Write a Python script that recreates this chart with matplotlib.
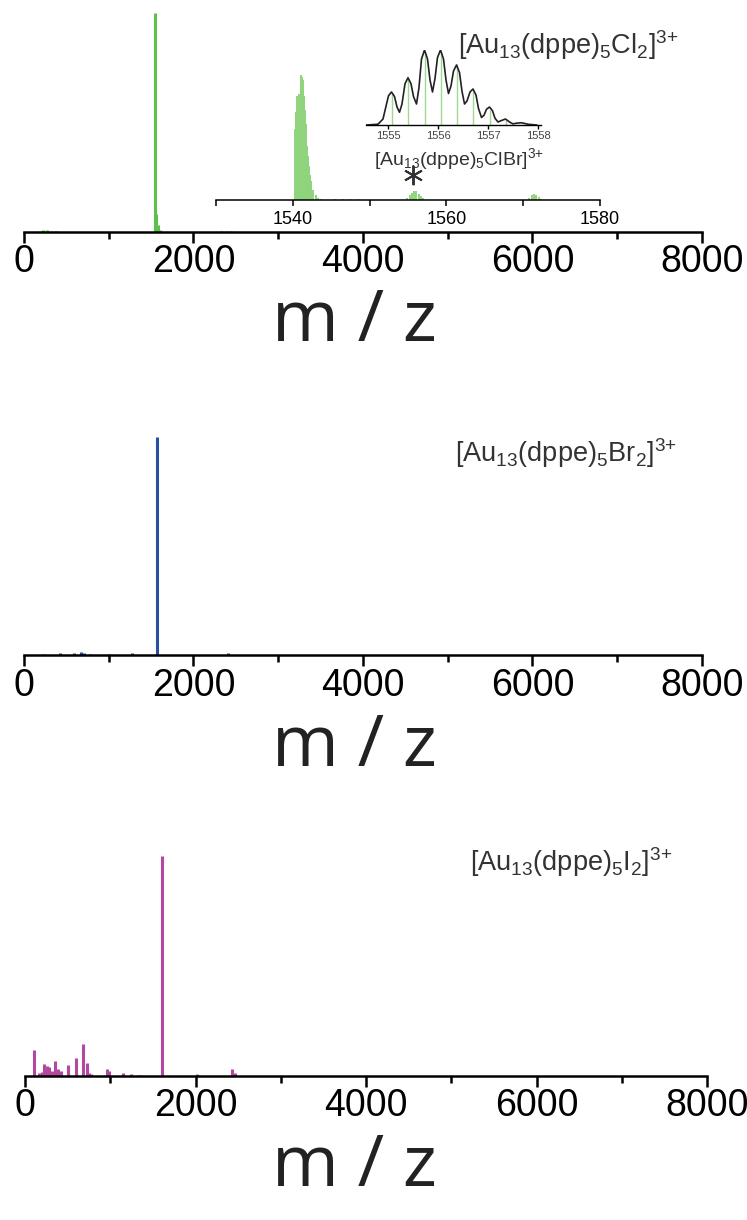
import matplotlib
matplotlib.use("Agg")
import matplotlib.pyplot as plt
from matplotlib.ticker import MultipleLocator

plt.rcParams['font.family'] = ['Liberation Sans', 'DejaVu Sans']
plt.rcParams['mathtext.fontset'] = 'custom'
plt.rcParams['mathtext.rm'] = 'Liberation Sans'
plt.rcParams['mathtext.it'] = 'Liberation Sans'

W, H = 747, 1220

# ---- data ----
cl_mz = [190, 230, 270, 320, 380, 1541, 1560, 1580, 1600, 2330, 2400, 2440]
cl_int = [0.6, 1.0, 0.8, 0.5, 0.4, 99.5, 8, 3, 1, 0.3, 0.4, 0.3]

br_mz = [229, 419, 593, 672, 703, 783, 1000, 1277, 1573, 2403]
br_int = [0.5, 1.0, 0.7, 1.2, 0.7, 0.5, 0.5, 0.7, 99, 1.0]

i_mz = [110, 170, 196, 227, 259, 286, 314, 353, 384, 424, 510, 600, 678, 722,
        745, 769, 957, 988, 1149, 1247, 1345, 1603, 2012, 2431, 2463]
i_int = [11.7, 1.4, 1.8, 5.4, 4.5, 4.1, 2.3, 6.8, 3.2, 2.3, 5.0, 8.1, 14.4, 5.9,
         1.4, 0.9, 3.2, 2.3, 1.4, 0.9, 0.5, 100, 0.9, 3.2, 1.4]

# zoomed region 1530-1580
zoom_mz = [1540.26, 1540.45, 1540.61, 1540.75, 1540.87, 1541.04, 1541.17, 1541.30,
           1541.47, 1541.60, 1541.73, 1541.90, 1542.03, 1542.16, 1542.30, 1542.42,
           1542.68, 1542.99, 1543.29, 1543.64,
           1545.5, 1546.5, 1547.5, 1548.5,
           1554.9, 1555.2, 1555.5, 1555.8, 1556.1, 1556.4, 1556.7, 1557.0,
           1570.8, 1571.1, 1571.4, 1571.7, 1572.0, 1572.3]
zoom_int = [0.57, 0.70, 0.83, 0.84, 0.85, 1.0, 0.98, 0.96,
            0.83, 0.72, 0.61, 0.43, 0.35, 0.27, 0.20, 0.15,
            0.08, 0.04, 0.02, 0.01,
            0.01, 0.01, 0.01, 0.01,
            0.02, 0.04, 0.06, 0.075, 0.07, 0.05, 0.03, 0.015,
            0.02, 0.04, 0.05, 0.04, 0.025, 0.01]

# isotope pattern of the ClBr species (sticks = simulated, line = measured)
iso_mz = [1555.07, 1555.40, 1555.73, 1556.05, 1556.37, 1556.70, 1557.03, 1557.35]
iso_int = [0.42, 0.62, 0.98, 0.98, 0.82, 0.46, 0.20, 0.07]
exp_mz = [1554.57, 1554.80, 1554.90, 1554.96, 1555.01, 1555.07, 1555.13, 1555.18,
          1555.23, 1555.28, 1555.34, 1555.40, 1555.46, 1555.51, 1555.57, 1555.62,
          1555.67, 1555.73, 1555.79, 1555.84, 1555.89, 1555.94, 1555.99, 1556.05,
          1556.11, 1556.16, 1556.21, 1556.26, 1556.31, 1556.37, 1556.43, 1556.48,
          1556.53, 1556.58, 1556.64, 1556.70, 1556.76, 1556.81, 1556.87, 1556.92,
          1556.97, 1557.03, 1557.09, 1557.14, 1557.20, 1557.27, 1557.35, 1557.43,
          1557.50, 1557.58, 1557.67, 1557.80, 1557.97]
exp_int = [0.0, 0.01, 0.08, 0.25, 0.39, 0.44, 0.38, 0.24,
           0.17, 0.28, 0.55, 0.63, 0.55, 0.38, 0.28, 0.50,
           0.88, 1.0, 0.88, 0.60, 0.44, 0.62, 0.90, 1.0,
           0.88, 0.60, 0.42, 0.52, 0.72, 0.80, 0.70, 0.45,
           0.28, 0.32, 0.44, 0.48, 0.40, 0.22, 0.10, 0.13,
           0.21, 0.24, 0.19, 0.09, 0.04, 0.06, 0.08, 0.04,
           0.015, 0.025, 0.03, 0.01, 0.0]

labels = [r'[Au$_{13}$(dppe)$_5$Cl$_2$]$^{3{+}}$',
          r'[Au$_{13}$(dppe)$_5$Br$_2$]$^{3{+}}$',
          r'[Au$_{13}$(dppe)$_5$I$_2$]$^{3{+}}$']


def px(left, top, width, height):
    return [left / W, 1 - (top + height) / H, width / W, height / H]


def style_axis(ax, lw, major_len, minor_len, size):
    for s in ['left', 'right', 'top']:
        ax.spines[s].set_visible(False)
    ax.spines['bottom'].set_linewidth(lw)
    ax.set_yticks([])
    ax.patch.set_visible(False)
    ax.tick_params(axis='x', which='major', direction='out', length=major_len,
                   width=lw, labelsize=size)
    ax.tick_params(axis='x', which='minor', direction='out', length=minor_len,
                   width=lw)


fig = plt.figure(figsize=(W / 100, H / 100), dpi=100)

panels = [
    (cl_mz, cl_int, '#5ec04a', 24, 678, 232, 458, 45, 322),
    (br_mz, br_int, '#2b4fa0', 24, 678, 655, 455, 453, 747),
    (i_mz, i_int, '#b4479f', 25, 682, 1076, 470, 862, 1167),
]

for k, (mz, inten, col, left, width, base, lx, ly, zy) in enumerate(panels):
    ax = fig.add_axes(px(left, base - 220, width, 220))
    ax.vlines(mz, 0, inten, color=col, lw=2.2)
    ax.set_xlim(0, 8000)
    ax.set_ylim(0, 100)
    ax.xaxis.set_major_locator(MultipleLocator(2000))
    ax.xaxis.set_minor_locator(MultipleLocator(1000))
    style_axis(ax, 1.8, 8, 5, 27)
    ax.tick_params(axis='x', pad=1)
    fig.text(lx / W, 1 - ly / H, labels[k], fontsize=19.5, color='#333333',
             ha='left', va='center')
    fig.text(354 / W, 1 - zy / H, 'm / z', family=['Open Sans', 'DejaVu Sans'],
             fontsize=52, color='#222222', ha='center', va='center')

# inset with zoomed region
axi = fig.add_axes(px(216, 75, 384, 125))
axi.vlines(zoom_mz, 0, zoom_int, color='#8fd47c', lw=1.4)
axi.set_xlim(1530, 1580)
axi.set_ylim(0, 1)
axi.xaxis.set_minor_locator(MultipleLocator(10))
style_axis(axi, 1.1, 4, 4, 13)
axi.set_xticks([1540, 1560, 1580])
axi.tick_params(axis='x', pad=4)
axi.plot([1555.6], [0.2], marker=(6, 2, 0), ms=14, mew=1.4, color='#333333')
axi.text(1561.6, 0.33, r'[Au$_{13}$(dppe)$_5$ClBr]$^{3{+}}$', fontsize=14,
         color='#333333', ha='center', va='center')

# isotope pattern inset
axs = fig.add_axes(px(365.5, 50, 175, 75))
axs.vlines(iso_mz, 0, iso_int, color='#9fd98f', lw=1.0)
axs.plot(exp_mz, exp_int, color='#222222', lw=1.2)
axs.set_xlim(1554.55, 1558.05)
axs.set_ylim(0, 1)
axs.xaxis.set_major_locator(MultipleLocator(1))
style_axis(axs, 1.0, 3, 2, 8)
axs.tick_params(axis='x', pad=1.5, labelcolor='#444444')

fig.savefig('out.png', dpi=100)
